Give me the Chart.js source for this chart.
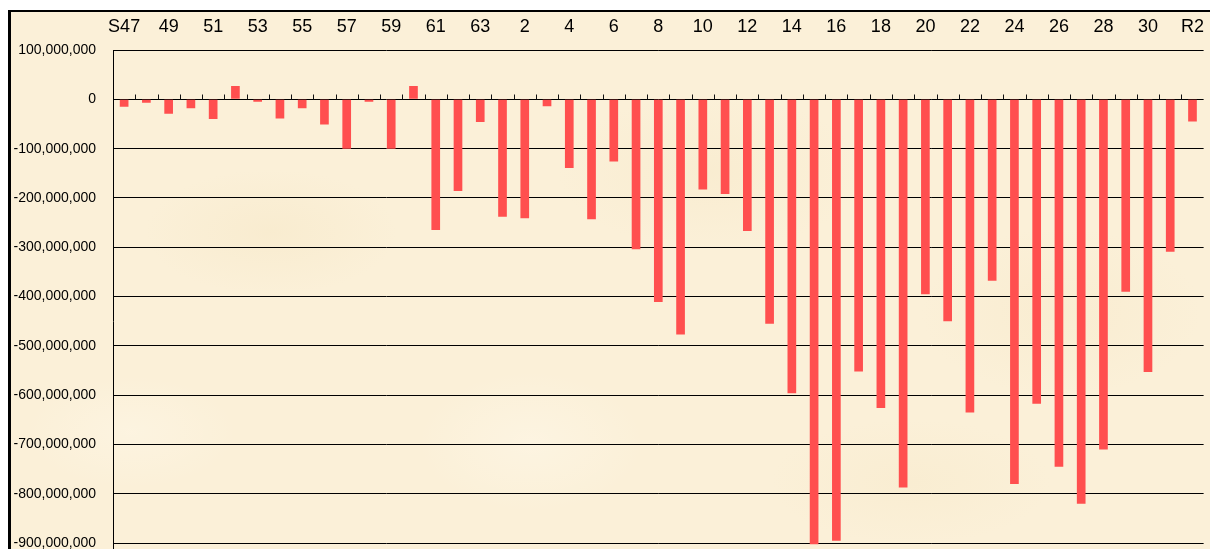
<!DOCTYPE html>
<html>
<head>
<meta charset="utf-8">
<script src="https://cdn.jsdelivr.net/npm/chart.js@4/dist/chart.umd.min.js"></script>
<style>
  html, body { margin: 0; padding: 0; background: #ffffff; overflow: hidden; width: 1210px; height: 549px; }
  #frame {
    position: absolute; left: 8px; top: 10px; width: 1210px; height: 620px;
    border-left: 3px solid #000; border-top: 2px solid #000;
    background-color: #fbf0d8;
    background-image:
      radial-gradient(ellipse 180px 90px at 260px 220px, rgba(244,228,192,0.35), rgba(244,228,192,0) 70%),
      radial-gradient(ellipse 220px 110px at 700px 160px, rgba(244,228,192,0.30), rgba(244,228,192,0) 70%),
      radial-gradient(ellipse 200px 120px at 1050px 300px, rgba(244,228,192,0.30), rgba(244,228,192,0) 70%),
      radial-gradient(ellipse 160px 100px at 520px 430px, rgba(255,249,236,0.45), rgba(255,249,236,0) 70%),
      radial-gradient(ellipse 200px 90px at 900px 470px, rgba(245,230,195,0.30), rgba(245,230,195,0) 70%),
      radial-gradient(ellipse 150px 80px at 120px 420px, rgba(255,249,236,0.4), rgba(255,249,236,0) 70%);
  }
  #c { position: absolute; left: 0; top: 0; }
</style>
</head>
<body>
<div id="frame"></div>
<canvas id="c" width="1216" height="618"></canvas>
<script>
const categories = ['S47','48','49','50','51','52','53','54','55','56','57','58','59','60','61','62','63',
  'H1','2','3','4','5','6','7','8','9','10','11','12','13','14','15','16','17','18','19','20',
  '21','22','23','24','25','26','27','28','29','30','R1','R2'];

const balance = [
  -15000000, -7000000, -29000000, -18000000, -40000000, 27000000, -5000000, -39000000, -18000000, -51000000,
  -100000000, -5000000, -100000000, 27000000, -265000000, -186000000, -46000000, -238000000, -241000000, -14000000,
  -139000000, -243000000, -126000000, -304000000, -411000000, -477000000, -183000000, -192000000, -267000000, -455000000,
  -596000000, -902000000, -895000000, -552000000, -626000000, -787000000, -395000000, -450000000, -635000000, -368000000,
  -780000000, -617000000, -745000000, -820000000, -710000000, -390000000, -553000000, -309000000, -45000000
];

const yMin = -1000000000;
const yMax = 100000000;
const yStep = 100000000;

const zeroTicks = {
  id: 'zeroTicks',
  afterDatasetsDraw(chart) {
    const x = chart.scales.x, y = chart.scales.y;
    const ctx = chart.ctx;
    const y0 = Math.round(y.getPixelForValue(0)) + 0.5;
    const n = categories.length;
    ctx.save();
    ctx.strokeStyle = '#111';
    ctx.lineWidth = 1;
    ctx.beginPath();
    for (let i = 1; i < n; i++) {
      const px = Math.round((x.getPixelForValue(i - 1) + x.getPixelForValue(i)) / 2) + 0.5;
      ctx.moveTo(px, y0);
      ctx.lineTo(px, y0 - 5);
    }
    ctx.stroke();
    ctx.restore();
  }
};

new Chart(document.getElementById('c'), {
  type: 'bar',
  data: {
    labels: categories,
    datasets: [{
      data: balance,
      backgroundColor: '#ff4f4f',
      borderWidth: 0,
      categoryPercentage: 1,
      barPercentage: 0.39
    }]
  },
  options: {
    responsive: false,
    animation: false,
    layout: { padding: { left: 0, top: 0, right: 1, bottom: 8 } },
    plugins: { legend: { display: false }, tooltip: { enabled: false } },
    scales: {
      x: {
        position: 'top',
        grid: { display: false, drawTicks: false },
        border: { display: false },
        ticks: {
          autoSkip: false,
          maxRotation: 0,
          padding: 12,
          color: '#000',
          font: { family: "'Liberation Sans', Arial, sans-serif", size: 18 },
          callback: (v, i) => (i % 2 === 0 ? categories[i] : '')
        },
        afterFit: (s) => { s.height = 50; }
      },
      y: {
        min: yMin,
        max: yMax,
        grid: { color: '#000', lineWidth: 1, drawTicks: false },
        border: { display: true, color: '#000', width: 1 },
        ticks: {
          stepSize: yStep,
          padding: 17,
          color: '#000',
          font: { family: "'Liberation Sans', Arial, sans-serif", size: 14 },
          callback: (v) => Number(v).toLocaleString('en-US')
        },
        afterFit: (s) => { s.width = 113; }
      }
    }
  },
  plugins: [zeroTicks]
});
</script>
</body>
</html>
